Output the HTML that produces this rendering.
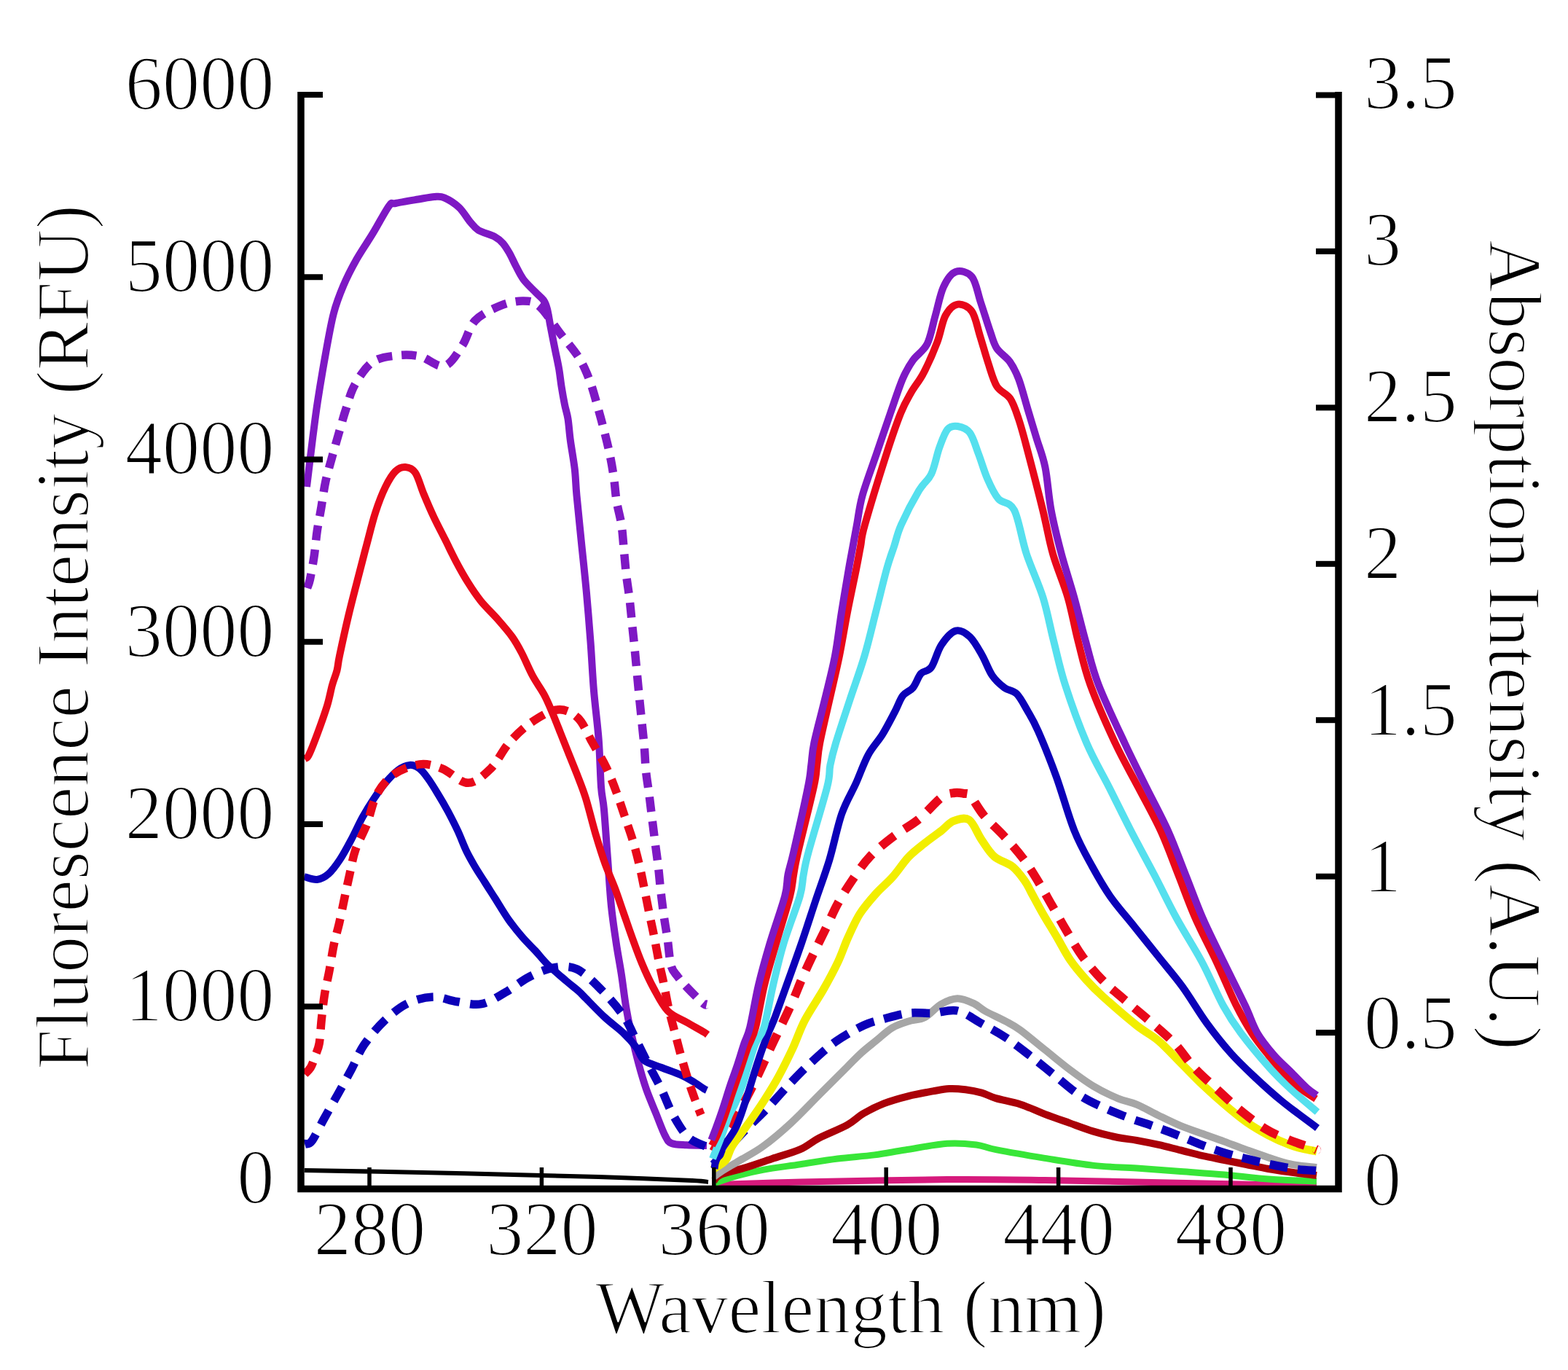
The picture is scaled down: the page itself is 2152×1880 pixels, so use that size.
<!DOCTYPE html>
<html><head><meta charset="utf-8">
<style>
html,body{margin:0;padding:0;background:#fff;}
svg{display:block;}
text{font-family:"Liberation Serif","Times New Roman",serif;fill:#000;stroke:#fff;stroke-width:2.2px;stroke-linejoin:round;}
</style></head>
<body>
<svg width="2152" height="1880" viewBox="0 0 2152 1880">
<rect width="2152" height="1880" fill="#fff"/>
<g font-size="105" text-anchor="end" transform="scale(0.975,1)">
<text x="386.2" y="150.0">6000</text>
<text x="386.2" y="400.2">5000</text>
<text x="386.2" y="650.5">4000</text>
<text x="386.2" y="900.8">3000</text>
<text x="386.2" y="1151.0">2000</text>
<text x="386.2" y="1401.2">1000</text>
<text x="386.2" y="1651.5">0</text>
</g>
<g font-size="105" text-anchor="middle" transform="scale(0.975,1)">
<text x="520.5" y="1722.5">280</text>
<text x="763.0" y="1722.5">320</text>
<text x="1005.4" y="1722.5">360</text>
<text x="1247.9" y="1722.5">400</text>
<text x="1490.4" y="1722.5">440</text>
<text x="1732.8" y="1722.5">480</text>
</g>
<g font-size="105" transform="scale(0.975,1)">
<text x="1920.0" y="149.5">3.5</text>
<text x="1920.0" y="364.4">3</text>
<text x="1920.0" y="579.3">2.5</text>
<text x="1920.0" y="794.2">2</text>
<text x="1920.0" y="1009.1">1.5</text>
<text x="1920.0" y="1224.0">1</text>
<text x="1920.0" y="1438.9">0.5</text>
<text x="1920.0" y="1653.8">0</text>
</g>
<text x="817" y="1828.5" font-size="103" textLength="701" lengthAdjust="spacingAndGlyphs">Wavelength (nm)</text>
<text transform="translate(121,1468) rotate(-90)" font-size="103" textLength="1187" lengthAdjust="spacingAndGlyphs">Fluorescence Intensity (RFU)</text>
<text transform="translate(2043.5,329) rotate(90)" font-size="103" textLength="1112" lengthAdjust="spacingAndGlyphs">Absorption Intensity (A.U.)</text>
<g fill="none" stroke-linejoin="round" stroke-linecap="butt">
<path d="M418.0,1606.0 C445.0,1606.5 525.8,1607.8 580.0,1609.0 C634.2,1610.2 698.0,1611.8 743.0,1613.0 C788.0,1614.2 815.5,1614.8 850.0,1616.0 C884.5,1617.2 929.7,1619.0 950.0,1620.0 C970.3,1621.0 968.3,1621.7 972.0,1622.0" stroke="#000" stroke-width="6"/>
<path d="M421.0,668.0 C422.4,656.7 426.9,619.2 429.3,600.0 C431.8,580.8 432.8,571.6 435.7,552.5 C438.6,533.4 443.2,506.0 446.9,485.5 C450.6,465.0 453.9,445.3 458.0,429.7 C462.1,414.1 466.2,404.1 471.4,391.8 C476.6,379.5 482.6,367.9 489.3,356.0 C496.0,344.1 504.2,332.7 511.6,320.4 C519.1,308.1 528.8,289.3 534.0,282.4 C539.2,275.5 536.2,280.5 542.9,279.0 C549.6,277.5 565.1,275.0 574.0,273.5 C582.9,272.0 590.4,270.4 596.4,270.0 C602.4,269.6 604.2,268.9 609.8,271.3 C615.4,273.7 624.0,279.0 630.0,284.6 C636.0,290.2 641.0,299.5 645.5,304.7 C650.0,309.9 651.1,312.5 656.7,315.9 C662.3,319.2 673.4,321.8 679.0,324.8 C684.6,327.8 686.9,330.1 690.2,333.8 C693.5,337.5 696.0,341.8 699.0,347.0 C702.0,352.2 704.8,358.9 708.0,365.0 C711.2,371.1 713.9,377.4 718.4,383.4 C722.9,389.4 730.4,396.2 735.0,401.0 C739.6,405.8 743.3,408.2 746.0,412.0 C748.7,415.8 749.4,418.0 751.0,424.0 C752.6,430.0 753.8,439.0 755.5,447.9 C757.2,456.8 759.3,467.4 761.3,477.2 C763.2,487.0 765.7,497.7 767.2,506.5 C768.7,515.3 769.2,521.9 770.5,530.0 C771.8,538.1 773.5,547.8 775.0,555.3 C776.5,562.8 778.2,566.7 779.5,574.8 C780.8,582.9 781.3,592.6 782.8,604.0 C784.3,615.4 787.2,630.5 788.7,643.2 C790.2,655.9 789.9,662.7 791.5,680.0 C793.1,697.3 796.0,724.7 798.2,747.0 C800.5,769.3 803.0,791.7 805.0,814.0 C807.0,836.3 808.8,858.7 810.5,881.0 C812.2,903.3 813.1,925.7 815.0,948.0 C816.9,970.3 820.0,992.8 821.7,1014.8 C823.4,1036.8 823.8,1064.1 825.0,1080.0 C826.2,1095.9 827.4,1093.8 828.9,1110.0 C830.4,1126.2 832.2,1154.7 833.9,1177.0 C835.6,1199.3 837.0,1224.5 839.0,1244.0 C841.0,1263.5 843.4,1278.3 845.7,1294.0 C848.0,1309.7 850.8,1323.3 853.0,1338.0 C855.2,1352.7 857.0,1368.9 859.2,1382.0 C861.4,1395.1 863.1,1403.5 866.0,1416.5 C868.9,1429.5 873.0,1446.8 876.5,1459.8 C880.0,1472.8 882.9,1482.9 886.9,1494.4 C890.9,1505.9 896.4,1518.3 900.7,1529.0 C905.0,1539.7 909.3,1551.8 912.8,1558.4 C916.3,1565.0 916.6,1566.7 921.5,1568.8 C926.4,1570.9 934.1,1570.8 942.2,1571.3 C950.3,1571.8 965.4,1571.9 970.0,1572.0" stroke="#7e18c4" stroke-width="10"/>
<path d="M421.5,807.0 C422.1,805.0 423.8,802.8 425.4,795.3 C427.0,787.8 429.7,773.1 431.3,762.0 C432.9,750.9 433.6,739.9 435.2,728.9 C436.8,717.9 439.1,707.1 441.0,695.7 C442.9,684.3 444.4,672.0 446.9,660.5 C449.4,649.0 452.9,637.8 455.8,627.0 C458.8,616.2 461.4,606.9 464.6,596.0 C467.8,585.1 471.1,572.7 474.8,561.4 C478.5,550.1 480.9,538.8 487.0,528.0 C493.1,517.2 501.9,503.4 511.6,496.7 C521.3,490.0 534.2,489.1 545.0,487.8 C555.8,486.5 565.5,486.6 576.3,489.0 C587.1,491.4 600.1,504.7 609.8,502.3 C619.5,499.9 627.4,484.8 634.4,474.4 C641.4,464.0 643.5,449.1 652.0,440.0 C660.5,430.9 674.7,424.5 685.5,420.0 C696.3,415.5 707.9,413.0 717.0,413.0 C726.1,413.0 731.3,412.6 740.0,420.0 C748.7,427.4 759.9,445.9 769.0,457.7 C778.1,469.5 787.8,480.2 794.5,490.9 C801.2,501.6 805.0,510.9 809.2,522.0 C813.5,533.1 816.8,546.0 820.0,557.3 C823.2,568.5 826.0,578.8 828.7,589.5 C831.5,600.2 834.2,610.8 836.5,621.7 C838.8,632.6 840.8,644.0 842.4,655.0 C844.0,666.0 844.5,677.2 846.3,688.0 C848.0,698.8 851.2,708.9 852.9,720.0 C854.6,731.1 855.2,743.2 856.3,754.8 C857.4,766.4 858.3,778.2 859.6,789.4 C860.9,800.5 862.7,810.7 864.0,821.7 C865.3,832.7 866.3,844.2 867.4,855.2 C868.5,866.2 869.7,876.4 870.8,887.6 C871.9,898.8 873.0,910.5 874.1,922.2 C875.2,933.9 876.4,946.5 877.5,957.9 C878.6,969.2 879.7,979.3 880.8,990.3 C881.9,1001.3 883.2,1012.5 884.2,1023.8 C885.2,1035.1 885.4,1047.0 886.5,1058.0 C887.6,1069.0 889.5,1079.1 890.9,1090.0 C892.3,1100.9 893.6,1112.4 895.0,1123.6 C896.4,1134.8 897.8,1146.2 899.2,1157.1 C900.6,1168.0 902.1,1178.0 903.4,1188.9 C904.7,1199.8 905.5,1211.2 906.8,1222.4 C908.1,1233.6 909.5,1245.0 911.0,1255.9 C912.5,1266.8 914.3,1276.2 916.0,1287.7 C917.7,1299.2 918.7,1316.3 921.0,1325.0 C923.3,1333.7 926.5,1335.1 930.0,1340.0 C933.5,1344.9 936.4,1348.1 942.2,1354.2 C948.0,1360.3 960.1,1372.7 964.7,1376.7 C969.3,1380.7 969.1,1377.8 970.0,1378.0" stroke="#7e18c4" stroke-width="11.5" stroke-dasharray="20.5 13"/>
<path d="M417.6,1041.0 C418.6,1040.3 420.5,1042.5 423.4,1037.0 C426.3,1031.5 431.0,1019.3 435.2,1008.0 C439.4,996.7 445.3,980.3 448.8,969.0 C452.3,957.7 453.7,948.2 456.0,940.0 C458.3,931.8 460.8,926.7 462.5,920.0 C464.2,913.3 463.4,912.3 466.0,900.0 C468.6,887.7 473.7,864.1 478.0,846.0 C482.3,827.9 487.6,808.0 491.8,791.4 C496.1,774.8 499.6,761.1 503.5,746.5 C507.4,731.9 511.0,716.5 515.2,703.5 C519.4,690.5 524.3,677.8 528.9,668.4 C533.5,659.0 538.0,651.5 542.6,646.9 C547.2,642.3 551.7,640.7 556.3,641.0 C560.9,641.3 565.8,642.6 570.0,648.8 C574.2,655.0 577.4,667.9 581.6,678.0 C585.8,688.1 590.4,699.0 595.3,709.4 C600.2,719.8 605.8,730.2 611.0,740.6 C616.2,751.0 621.4,762.1 626.6,771.9 C631.8,781.7 636.7,790.4 642.2,799.2 C647.7,808.0 653.0,816.1 659.8,824.6 C666.6,833.1 676.0,841.8 683.2,850.0 C690.4,858.2 697.5,866.3 703.0,874.0 C708.5,881.7 711.3,887.0 716.0,896.0 C720.7,905.0 726.1,918.3 731.3,927.9 C736.5,937.5 742.5,945.2 747.0,953.6 C751.5,962.0 754.4,969.4 758.1,978.1 C761.8,986.8 765.6,996.7 769.3,1006.0 C773.0,1015.3 776.7,1024.6 780.4,1033.9 C784.1,1043.2 787.7,1051.6 791.6,1061.8 C795.5,1072.0 799.5,1081.3 803.8,1095.0 C808.1,1108.7 812.7,1128.6 817.2,1143.7 C821.7,1158.8 826.1,1173.0 830.6,1185.6 C835.1,1198.1 839.8,1207.8 844.0,1219.0 C848.2,1230.2 851.8,1241.3 855.7,1252.5 C859.6,1263.7 863.2,1274.4 867.4,1286.0 C871.6,1297.6 876.1,1310.3 881.0,1322.0 C885.9,1333.7 891.1,1345.2 897.0,1356.0 C902.9,1366.8 908.8,1379.3 916.3,1387.1 C923.8,1394.9 933.9,1397.8 942.2,1402.7 C950.6,1407.6 961.6,1413.6 966.4,1416.5 C971.2,1419.4 970.2,1419.4 971.0,1420.0" stroke="#e8081a" stroke-width="10"/>
<path d="M417.6,1203.0 C420.5,1203.7 429.7,1207.6 435.2,1207.0 C440.7,1206.4 445.6,1203.8 450.8,1199.3 C456.0,1194.8 461.2,1187.6 466.4,1179.8 C471.6,1172.0 476.8,1162.2 482.0,1152.4 C487.2,1142.6 492.5,1130.6 497.7,1121.2 C502.9,1111.8 508.1,1103.6 513.3,1095.8 C518.5,1088.0 523.4,1080.8 528.9,1074.3 C534.4,1067.8 541.0,1060.8 546.5,1056.7 C552.0,1052.6 557.2,1050.2 562.1,1049.9 C567.0,1049.6 571.6,1051.7 575.8,1054.8 C580.0,1057.9 583.3,1062.6 587.5,1068.4 C591.7,1074.2 596.7,1082.4 601.2,1089.9 C605.8,1097.4 610.2,1104.9 614.8,1113.4 C619.3,1121.9 624.3,1131.6 628.5,1140.7 C632.7,1149.8 636.3,1159.9 640.2,1168.0 C644.1,1176.1 647.8,1182.3 652.0,1189.5 C656.2,1196.7 661.1,1203.8 665.6,1211.0 C670.1,1218.2 673.9,1224.0 679.3,1232.5 C684.7,1241.0 691.7,1253.1 698.0,1262.0 C704.3,1270.9 710.8,1278.8 717.0,1286.0 C723.2,1293.2 729.2,1298.7 735.0,1305.0 C740.8,1311.3 745.0,1317.2 752.0,1324.0 C759.0,1330.8 770.0,1340.0 777.0,1346.0 C784.0,1352.0 789.5,1356.0 794.0,1360.0 C798.5,1364.0 798.0,1364.0 804.0,1370.0 C810.0,1376.0 821.3,1388.0 830.0,1396.0 C838.7,1404.0 848.8,1411.2 856.0,1418.0 C863.2,1424.8 868.3,1430.8 873.0,1437.0 C877.7,1443.2 878.2,1450.3 884.0,1455.0 C889.8,1459.7 899.7,1461.7 908.0,1465.0 C916.3,1468.3 926.8,1471.8 934.0,1475.0 C941.2,1478.2 945.7,1480.8 951.0,1484.0 C956.3,1487.2 962.8,1492.0 966.0,1494.0 C969.2,1496.0 969.3,1495.7 970.0,1496.0" stroke="#0c00b8" stroke-width="10"/>
<path d="M418.0,1474.0 C419.4,1472.4 424.0,1468.9 426.5,1464.6 C429.0,1460.3 431.1,1453.5 433.0,1448.0 C434.9,1442.5 436.8,1439.9 438.2,1431.7 C439.6,1423.5 440.1,1410.2 441.3,1398.9 C442.5,1387.6 443.8,1375.1 445.6,1363.9 C447.4,1352.8 449.9,1343.3 452.0,1332.0 C454.1,1320.7 456.0,1306.9 458.3,1296.0 C460.6,1285.1 463.2,1277.3 465.7,1266.4 C468.2,1255.5 470.8,1241.7 473.2,1230.5 C475.6,1219.3 477.6,1210.0 480.0,1199.3 C482.4,1188.5 484.0,1177.4 487.9,1166.0 C491.8,1154.6 498.6,1143.7 503.5,1131.0 C508.4,1118.3 511.0,1101.4 517.2,1090.0 C523.4,1078.6 530.8,1069.4 540.6,1062.6 C550.4,1055.8 564.7,1050.2 575.8,1048.9 C586.9,1047.6 595.9,1050.6 607.0,1054.8 C618.1,1059.0 631.1,1074.3 642.2,1074.3 C653.3,1074.3 663.9,1064.0 673.4,1054.8 C682.9,1045.6 689.7,1029.5 699.0,1019.0 C708.3,1008.5 718.0,999.0 729.0,991.5 C740.0,984.0 754.3,975.1 765.0,974.0 C775.7,972.9 785.0,977.5 793.0,985.0 C801.0,992.5 806.5,1007.7 813.0,1019.0 C819.5,1030.3 826.5,1041.7 832.0,1053.0 C837.5,1064.3 841.8,1075.8 846.0,1087.0 C850.2,1098.2 853.5,1108.9 857.4,1120.3 C861.2,1131.7 865.8,1144.2 869.1,1155.4 C872.5,1166.6 875.0,1176.6 877.5,1187.2 C880.0,1197.8 882.0,1208.1 884.2,1219.0 C886.4,1229.9 888.7,1241.6 890.9,1252.5 C893.1,1263.4 895.4,1273.1 897.6,1284.3 C899.8,1295.5 902.1,1308.5 904.3,1319.5 C906.5,1330.5 908.7,1339.1 911.0,1350.0 C913.3,1360.9 915.4,1373.6 918.0,1385.0 C920.6,1396.4 923.7,1407.2 926.6,1418.2 C929.5,1429.2 932.1,1439.8 935.3,1451.1 C938.5,1462.3 942.4,1475.5 945.7,1485.7 C949.0,1495.9 952.3,1504.6 955.0,1512.0 C957.7,1519.4 960.8,1527.0 962.0,1530.0" stroke="#e8081a" stroke-width="11.5" stroke-dasharray="20.5 13"/>
<path d="M418.0,1569.5 C419.6,1569.0 423.2,1572.0 427.6,1566.3 C432.0,1560.6 438.5,1546.4 444.5,1535.6 C450.5,1524.8 457.2,1513.2 463.6,1501.7 C470.0,1490.2 476.7,1478.0 482.7,1466.7 C488.7,1455.4 492.0,1444.9 499.6,1433.8 C507.2,1422.7 518.2,1409.5 528.3,1400.0 C538.4,1390.5 548.9,1381.9 560.0,1376.6 C571.1,1371.3 583.9,1368.4 595.0,1368.1 C606.1,1367.8 615.8,1372.9 626.8,1374.5 C637.8,1376.1 649.7,1379.8 660.8,1377.7 C671.9,1375.6 682.6,1368.0 693.6,1361.8 C704.6,1355.6 715.4,1346.1 726.5,1340.5 C737.6,1334.9 749.1,1329.8 760.0,1328.0 C770.9,1326.2 781.0,1324.8 792.0,1330.0 C803.0,1335.2 815.4,1348.3 826.0,1359.0 C836.6,1369.7 847.9,1382.7 855.7,1394.0 C863.5,1405.3 867.2,1415.7 873.0,1426.9 C878.8,1438.2 884.5,1450.2 890.3,1461.5 C896.1,1472.8 902.1,1483.2 907.6,1494.4 C913.1,1505.7 917.1,1518.0 923.2,1529.0 C929.3,1540.0 936.8,1552.9 944.0,1560.1 C951.2,1567.3 961.8,1569.9 966.4,1572.2 C971.0,1574.5 970.7,1573.7 971.6,1574.0" stroke="#0c00b8" stroke-width="11.5" stroke-dasharray="22.5 14.5"/>
<path d="M980.0,1626.0 C1000.0,1625.3 1046.7,1623.2 1100.0,1622.0 C1153.3,1620.8 1244.3,1618.9 1300.0,1618.5 C1355.7,1618.1 1387.3,1618.8 1434.0,1619.5 C1480.7,1620.2 1535.7,1621.6 1580.0,1622.5 C1624.3,1623.4 1662.2,1624.2 1700.0,1625.0 C1737.8,1625.8 1789.2,1626.7 1807.0,1627.0" stroke="#d61a7c" stroke-width="9"/>
<path d="M980.0,1624.0 C984.8,1622.4 997.3,1617.5 1008.5,1614.4 C1019.7,1611.3 1032.0,1608.2 1047.0,1605.4 C1062.0,1602.6 1081.3,1600.3 1098.4,1597.7 C1115.5,1595.1 1132.8,1592.1 1149.7,1590.0 C1166.6,1587.9 1184.5,1586.9 1200.0,1584.9 C1215.5,1582.9 1225.7,1580.6 1242.4,1578.0 C1259.1,1575.4 1283.7,1570.5 1300.0,1569.3 C1316.3,1568.1 1328.8,1569.6 1340.0,1571.0 C1351.2,1572.4 1351.2,1574.6 1366.9,1577.7 C1382.6,1580.8 1411.6,1585.8 1433.9,1589.4 C1456.2,1593.0 1479.8,1597.1 1500.8,1599.4 C1521.8,1601.7 1540.1,1601.7 1560.0,1603.0 C1579.9,1604.3 1600.2,1606.0 1620.3,1607.5 C1640.4,1609.0 1660.4,1610.2 1680.5,1612.0 C1700.6,1613.8 1719.7,1616.5 1740.8,1618.0 C1761.9,1619.5 1796.0,1620.5 1807.0,1621.0" stroke="#38e638" stroke-width="9"/>
<path d="M980.0,1620.0 C981.5,1618.6 982.4,1614.7 989.3,1611.8 C996.2,1608.9 1009.5,1606.4 1021.3,1602.8 C1033.1,1599.2 1047.1,1594.3 1059.9,1590.0 C1072.8,1585.7 1087.7,1581.8 1098.4,1577.1 C1109.1,1572.4 1113.3,1567.2 1124.0,1561.7 C1134.7,1556.2 1152.4,1549.4 1162.6,1543.8 C1172.8,1538.2 1176.5,1532.9 1185.0,1528.0 C1193.5,1523.1 1203.2,1518.2 1213.5,1514.2 C1223.8,1510.2 1235.8,1506.9 1247.0,1504.1 C1258.2,1501.3 1271.1,1499.1 1280.4,1497.4 C1289.7,1495.7 1295.3,1494.4 1302.8,1494.0 C1310.2,1493.6 1317.7,1494.3 1325.1,1495.2 C1332.5,1496.1 1340.4,1497.6 1347.4,1499.6 C1354.4,1501.6 1358.1,1504.5 1366.9,1507.1 C1375.7,1509.7 1389.2,1511.8 1400.4,1515.4 C1411.6,1519.0 1422.7,1524.5 1433.9,1528.8 C1445.1,1533.0 1456.2,1536.9 1467.4,1540.9 C1478.6,1544.9 1489.7,1549.2 1500.8,1552.6 C1511.9,1555.9 1524.4,1559.0 1534.3,1561.0 C1544.2,1563.0 1550.7,1563.1 1560.0,1564.8 C1569.3,1566.5 1580.0,1568.6 1590.1,1570.9 C1600.1,1573.2 1610.2,1575.9 1620.3,1578.4 C1630.3,1580.9 1640.4,1583.7 1650.4,1586.0 C1660.4,1588.3 1670.5,1590.0 1680.5,1592.0 C1690.5,1594.0 1700.7,1596.0 1710.7,1598.0 C1720.8,1600.0 1730.8,1602.2 1740.8,1604.0 C1750.8,1605.8 1760.0,1607.0 1771.0,1608.5 C1782.0,1610.0 1801.0,1612.2 1807.0,1613.0" stroke="#aa0008" stroke-width="10"/>
<path d="M980.0,1615.0 C981.5,1613.8 983.5,1611.7 989.3,1608.0 C995.1,1604.3 1005.4,1598.4 1015.0,1592.6 C1024.6,1586.8 1035.2,1581.9 1047.0,1573.3 C1058.8,1564.7 1072.7,1553.0 1085.5,1541.2 C1098.3,1529.4 1111.2,1515.5 1124.0,1502.7 C1136.8,1489.9 1152.9,1473.8 1162.6,1464.2 C1172.3,1454.6 1175.4,1451.0 1182.0,1445.0 C1188.6,1439.0 1195.2,1434.0 1202.3,1428.2 C1209.4,1422.4 1217.1,1414.9 1224.6,1410.4 C1232.0,1405.9 1239.5,1403.8 1247.0,1401.4 C1254.5,1399.0 1261.9,1399.9 1269.3,1396.0 C1276.7,1392.1 1284.2,1382.3 1291.6,1378.0 C1299.0,1373.7 1306.5,1370.4 1313.9,1370.2 C1321.3,1370.0 1329.7,1373.9 1336.2,1376.9 C1342.7,1379.9 1345.7,1383.9 1353.0,1388.0 C1360.3,1392.1 1372.1,1397.1 1380.0,1401.4 C1387.9,1405.7 1391.4,1407.1 1400.4,1413.6 C1409.4,1420.1 1422.7,1431.5 1433.9,1440.4 C1445.1,1449.3 1456.2,1458.8 1467.4,1467.2 C1478.6,1475.6 1489.7,1483.9 1500.8,1490.6 C1511.9,1497.3 1524.4,1503.2 1534.3,1507.4 C1544.2,1511.6 1550.7,1511.7 1560.0,1515.6 C1569.3,1519.5 1580.0,1525.8 1590.1,1530.7 C1600.1,1535.6 1610.2,1540.7 1620.3,1544.9 C1630.3,1549.1 1640.4,1552.2 1650.4,1555.8 C1660.4,1559.4 1670.5,1562.9 1680.5,1566.6 C1690.5,1570.3 1700.7,1574.3 1710.7,1577.9 C1720.8,1581.5 1730.8,1585.1 1740.8,1588.4 C1750.8,1591.7 1760.0,1595.2 1771.0,1597.5 C1782.0,1599.8 1801.0,1601.2 1807.0,1602.0" stroke="#a6a6a6" stroke-width="10"/>
<path d="M979.0,1598.0 C985.7,1590.8 1006.8,1567.5 1019.0,1554.8 C1031.2,1542.0 1041.7,1532.6 1052.4,1521.5 C1063.1,1510.4 1072.9,1498.7 1083.2,1488.0 C1093.5,1477.3 1103.3,1467.1 1114.0,1457.3 C1124.7,1447.5 1135.5,1437.4 1147.4,1429.0 C1159.3,1420.6 1174.6,1412.2 1185.6,1407.0 C1196.6,1401.8 1203.3,1400.9 1213.5,1398.1 C1223.7,1395.3 1235.8,1391.6 1247.0,1390.3 C1258.2,1389.0 1269.2,1390.8 1280.4,1390.3 C1291.6,1389.8 1302.6,1384.5 1313.9,1387.0 C1325.2,1389.5 1337.4,1399.2 1348.5,1405.3 C1359.6,1411.4 1369.4,1416.5 1380.3,1423.7 C1391.2,1431.0 1402.6,1440.2 1413.8,1448.8 C1425.0,1457.4 1436.1,1466.7 1447.3,1475.6 C1458.5,1484.5 1469.9,1495.0 1480.8,1502.3 C1491.7,1509.5 1501.2,1513.8 1512.6,1519.1 C1524.0,1524.4 1538.2,1529.9 1549.4,1534.1 C1560.6,1538.3 1569.0,1540.5 1579.6,1544.2 C1590.1,1547.9 1601.7,1552.0 1612.7,1556.3 C1623.8,1560.6 1634.6,1565.5 1645.9,1569.8 C1657.2,1574.1 1669.2,1578.4 1680.5,1581.9 C1691.8,1585.4 1702.7,1588.1 1713.7,1590.9 C1724.8,1593.7 1735.8,1596.2 1746.8,1598.5 C1757.8,1600.8 1770.0,1603.2 1780.0,1604.5 C1790.0,1605.8 1802.5,1606.2 1807.0,1606.5" stroke="#0c00b8" stroke-width="11.5" stroke-dasharray="25 14"/>
<path d="M978.0,1605.0 C981.0,1602.9 991.3,1597.9 995.7,1592.6 C1000.1,1587.3 999.2,1581.9 1004.5,1573.3 C1009.8,1564.7 1020.1,1551.9 1027.6,1541.2 C1035.1,1530.5 1042.6,1519.8 1049.4,1509.1 C1056.2,1498.4 1062.3,1488.8 1068.7,1477.0 C1075.1,1465.2 1082.0,1451.3 1088.0,1438.5 C1094.0,1425.7 1097.6,1413.4 1104.6,1400.0 C1111.6,1386.6 1122.4,1371.3 1130.0,1358.0 C1137.6,1344.7 1144.5,1331.8 1150.1,1320.0 C1155.7,1308.2 1158.5,1298.4 1163.5,1287.4 C1168.5,1276.4 1173.7,1264.1 1180.2,1253.9 C1186.7,1243.7 1195.0,1234.4 1202.5,1226.0 C1210.0,1217.6 1217.5,1212.1 1224.9,1203.7 C1232.4,1195.3 1239.8,1183.6 1247.2,1175.8 C1254.6,1168.0 1262.1,1162.8 1269.5,1156.8 C1276.9,1150.8 1285.3,1145.1 1291.8,1140.1 C1298.3,1135.1 1302.2,1129.2 1308.6,1126.7 C1315.0,1124.2 1323.6,1120.8 1330.0,1125.0 C1336.4,1129.2 1341.2,1143.6 1347.0,1152.0 C1352.8,1160.4 1357.5,1169.1 1364.6,1175.3 C1371.7,1181.5 1382.7,1183.6 1389.7,1189.2 C1396.7,1194.8 1402.2,1202.9 1406.4,1208.7 C1410.6,1214.5 1411.0,1216.7 1415.0,1224.0 C1419.0,1231.3 1424.6,1242.1 1430.5,1252.4 C1436.4,1262.7 1444.1,1275.0 1450.5,1285.9 C1456.9,1296.8 1462.3,1307.9 1469.0,1317.7 C1475.7,1327.5 1483.2,1336.1 1490.7,1344.5 C1498.2,1352.9 1502.7,1357.6 1514.2,1368.0 C1525.8,1378.4 1547.3,1397.1 1560.0,1407.1 C1572.7,1417.1 1580.0,1419.7 1590.1,1428.2 C1600.1,1436.7 1610.2,1448.2 1620.3,1458.3 C1630.3,1468.3 1640.4,1479.0 1650.4,1488.5 C1660.4,1498.0 1670.5,1507.1 1680.5,1515.6 C1690.5,1524.1 1700.7,1532.7 1710.7,1539.7 C1720.8,1546.7 1730.8,1552.5 1740.8,1557.8 C1750.8,1563.1 1762.2,1568.1 1771.0,1571.4 C1779.8,1574.7 1787.5,1576.0 1793.5,1577.4 C1799.5,1578.8 1804.8,1579.6 1807.0,1580.0" stroke="#f2ee00" stroke-width="11"/>
<path d="M979.0,1580.0 C980.3,1577.8 982.0,1574.0 986.7,1566.9 C991.4,1559.8 1000.8,1547.7 1007.2,1537.4 C1013.6,1527.1 1019.4,1516.2 1025.2,1505.3 C1031.0,1494.4 1036.6,1483.0 1041.9,1471.9 C1047.2,1460.8 1052.2,1449.4 1057.3,1438.5 C1062.4,1427.6 1067.5,1417.4 1072.7,1406.4 C1077.9,1395.4 1083.7,1383.4 1088.4,1372.6 C1093.2,1361.8 1096.5,1352.4 1101.2,1341.7 C1105.9,1331.0 1111.0,1320.1 1116.6,1308.4 C1122.1,1296.8 1128.9,1283.3 1134.5,1271.8 C1140.1,1260.3 1144.1,1250.2 1150.1,1239.4 C1156.0,1228.6 1163.0,1217.6 1170.2,1207.0 C1177.5,1196.4 1184.3,1185.6 1193.6,1175.8 C1202.9,1166.0 1214.8,1156.5 1226.0,1147.9 C1237.2,1139.4 1249.6,1133.4 1260.6,1124.5 C1271.6,1115.6 1283.8,1100.5 1292.0,1094.4 C1300.2,1088.3 1304.8,1088.9 1310.0,1088.0 C1315.2,1087.1 1319.4,1088.3 1323.0,1089.0 C1326.6,1089.7 1327.2,1087.0 1331.7,1092.0 C1336.2,1097.0 1342.5,1109.7 1350.3,1119.0 C1358.1,1128.3 1369.5,1138.1 1378.5,1148.0 C1387.5,1157.9 1396.6,1168.0 1404.5,1178.5 C1412.4,1189.0 1419.2,1200.4 1425.7,1211.0 C1432.2,1221.6 1437.1,1230.9 1443.5,1242.0 C1449.9,1253.1 1456.9,1265.8 1463.9,1277.6 C1470.9,1289.4 1477.6,1301.5 1485.7,1312.7 C1493.8,1323.9 1503.0,1334.7 1512.5,1344.5 C1522.0,1354.3 1531.4,1361.6 1542.6,1371.3 C1553.8,1381.0 1567.9,1392.4 1579.6,1402.6 C1591.3,1412.8 1602.9,1422.4 1612.7,1432.7 C1622.5,1443.0 1628.8,1454.1 1638.3,1464.4 C1647.8,1474.7 1659.5,1484.7 1670.0,1494.5 C1680.5,1504.3 1690.5,1514.0 1701.6,1523.1 C1712.6,1532.1 1725.2,1542.0 1736.3,1548.8 C1747.3,1555.6 1756.9,1559.3 1767.9,1563.8 C1779.0,1568.3 1796.1,1573.5 1802.6,1575.9 C1809.1,1578.3 1806.3,1577.7 1807.0,1578.0" stroke="#e8081a" stroke-width="12" stroke-dasharray="24 16"/>
<path d="M980.5,1603.6 C980.9,1601.8 980.7,1597.6 982.8,1592.6 C984.9,1587.5 988.6,1580.8 993.1,1573.3 C997.6,1565.8 1004.9,1557.6 1009.8,1547.6 C1014.7,1537.5 1018.2,1525.9 1022.6,1513.0 C1027.0,1500.1 1032.1,1482.2 1036.0,1470.0 C1039.9,1457.8 1042.7,1449.3 1046.0,1440.0 C1049.3,1430.7 1053.0,1421.5 1056.0,1414.0 C1059.0,1406.5 1059.7,1406.5 1064.0,1395.0 C1068.3,1383.5 1076.0,1361.7 1082.0,1345.0 C1088.0,1328.3 1093.6,1313.0 1099.8,1295.0 C1106.0,1277.0 1112.6,1256.2 1119.0,1237.0 C1125.4,1217.8 1132.2,1200.0 1138.3,1180.0 C1144.3,1160.0 1149.2,1134.2 1155.3,1116.7 C1161.4,1099.2 1168.8,1088.3 1174.8,1074.8 C1180.8,1061.3 1185.5,1047.0 1191.6,1035.8 C1197.6,1024.6 1205.0,1017.7 1211.1,1007.9 C1217.1,998.1 1223.2,986.1 1227.9,977.2 C1232.6,968.4 1234.8,960.4 1239.0,954.8 C1243.2,949.2 1248.8,948.8 1253.0,943.7 C1257.2,938.6 1259.9,928.9 1264.1,924.2 C1268.3,919.6 1273.4,922.3 1278.1,915.8 C1282.8,909.3 1286.4,893.4 1292.0,885.0 C1297.6,876.6 1305.1,867.5 1311.6,865.6 C1318.1,863.8 1325.1,868.3 1331.1,873.9 C1337.1,879.5 1342.7,890.1 1347.8,899.0 C1352.9,907.9 1356.7,919.5 1361.8,927.0 C1366.9,934.5 1372.9,939.5 1378.5,943.7 C1384.1,947.9 1390.0,946.8 1395.3,952.0 C1400.5,957.2 1405.1,966.5 1410.0,975.0 C1414.9,983.5 1418.2,988.2 1424.8,1003.2 C1431.4,1018.2 1441.2,1042.5 1449.5,1065.2 C1457.8,1087.9 1466.0,1118.9 1474.3,1139.5 C1482.5,1160.1 1490.7,1173.9 1499.0,1189.0 C1507.3,1204.1 1514.2,1216.5 1523.9,1230.3 C1533.6,1244.1 1545.9,1257.8 1556.9,1271.6 C1567.9,1285.4 1579.0,1299.1 1590.0,1312.9 C1601.0,1326.7 1612.0,1339.1 1623.0,1354.2 C1634.0,1369.3 1645.0,1388.6 1656.0,1403.7 C1667.0,1418.8 1678.0,1432.6 1689.0,1445.0 C1700.0,1457.4 1710.3,1467.0 1722.0,1478.0 C1733.7,1489.0 1744.9,1499.3 1759.2,1511.0 C1773.5,1522.7 1799.9,1541.8 1808.0,1548.0" stroke="#0c00b8" stroke-width="10"/>
<path d="M978.0,1590.0 C980.0,1585.0 986.2,1570.0 990.0,1560.0 C993.8,1550.0 997.9,1537.4 1001.0,1530.0 C1004.1,1522.6 1005.5,1522.2 1008.5,1515.5 C1011.5,1508.8 1015.8,1498.5 1018.8,1489.9 C1021.8,1481.4 1023.5,1473.8 1026.5,1464.2 C1029.5,1454.6 1033.1,1441.1 1036.8,1432.1 C1040.5,1423.1 1044.5,1423.3 1048.5,1410.0 C1052.5,1396.7 1056.5,1371.2 1061.0,1352.0 C1065.5,1332.8 1069.3,1315.3 1075.4,1295.0 C1081.5,1274.7 1093.1,1245.8 1097.7,1230.0 C1102.3,1214.2 1100.8,1210.0 1102.8,1200.0 C1104.8,1190.0 1104.0,1190.0 1109.4,1170.0 C1114.8,1150.0 1130.2,1100.0 1135.2,1080.0 C1140.2,1060.0 1137.4,1060.0 1139.4,1050.0 C1141.4,1040.0 1142.5,1035.0 1147.0,1020.0 C1151.5,1005.0 1159.9,980.0 1166.5,960.0 C1173.1,940.0 1180.6,920.0 1186.5,900.0 C1192.4,880.0 1196.9,860.0 1202.0,840.0 C1207.1,820.0 1213.0,795.0 1217.2,780.0 C1221.4,765.0 1223.7,760.0 1227.0,750.0 C1230.3,740.0 1231.2,732.8 1236.9,720.0 C1242.6,707.2 1254.4,684.6 1261.3,673.0 C1268.2,661.4 1273.4,660.4 1278.1,650.6 C1282.8,640.8 1285.5,624.6 1289.2,614.4 C1292.9,604.2 1296.2,594.1 1300.4,589.2 C1304.6,584.3 1309.3,584.2 1314.4,585.0 C1319.5,585.8 1326.3,587.7 1331.1,594.0 C1335.9,600.3 1339.0,612.6 1343.0,623.0 C1347.0,633.4 1350.5,646.2 1355.0,656.5 C1359.5,666.8 1364.0,677.2 1370.2,684.5 C1376.4,691.8 1385.6,687.4 1392.0,700.0 C1398.4,712.6 1402.2,740.0 1408.8,760.0 C1415.4,780.0 1425.3,800.0 1431.5,820.0 C1437.7,840.0 1441.1,860.0 1446.2,880.0 C1451.3,900.0 1454.5,916.7 1462.0,940.0 C1469.5,963.3 1481.5,996.7 1491.5,1020.0 C1501.5,1043.3 1511.9,1060.0 1522.0,1080.0 C1532.1,1100.0 1541.8,1120.0 1552.1,1140.0 C1562.4,1160.0 1573.5,1180.0 1584.0,1200.0 C1594.5,1220.0 1603.9,1240.0 1614.8,1260.0 C1625.7,1280.0 1638.9,1300.0 1649.6,1320.0 C1660.3,1340.0 1669.9,1363.7 1678.8,1380.0 C1687.7,1396.3 1692.4,1403.4 1703.1,1417.7 C1713.8,1432.0 1731.3,1452.9 1742.7,1465.7 C1754.1,1478.5 1760.7,1484.5 1771.6,1494.6 C1782.5,1504.6 1801.9,1520.8 1808.0,1526.0" stroke="#55e0ee" stroke-width="10"/>
<path d="M977.0,1572.0 C978.3,1569.3 982.0,1563.0 985.0,1556.0 C988.0,1549.0 991.7,1539.3 995.0,1530.0 C998.3,1520.7 1001.5,1510.3 1005.0,1500.0 C1008.5,1489.7 1012.5,1478.3 1016.0,1468.0 C1019.5,1457.7 1022.5,1447.7 1026.0,1438.0 C1029.5,1428.3 1033.2,1424.3 1037.0,1410.0 C1040.8,1395.7 1044.3,1371.2 1049.0,1352.0 C1053.7,1332.8 1059.2,1315.3 1065.0,1295.0 C1070.8,1274.7 1080.1,1245.8 1084.1,1230.0 C1088.1,1214.2 1087.4,1210.0 1089.2,1200.0 C1091.0,1190.0 1090.5,1190.0 1095.1,1170.0 C1099.7,1150.0 1112.4,1100.0 1116.8,1080.0 C1121.2,1060.0 1119.8,1060.0 1121.2,1050.0 C1122.6,1040.0 1122.2,1035.0 1125.1,1020.0 C1128.0,1005.0 1134.0,980.0 1138.5,960.0 C1143.0,940.0 1147.9,920.0 1152.0,900.0 C1156.1,880.0 1159.1,860.0 1163.0,840.0 C1166.9,820.0 1172.3,795.0 1175.3,780.0 C1178.3,765.0 1179.0,760.0 1181.0,750.0 C1183.0,740.0 1181.0,741.2 1187.0,720.0 C1193.0,698.8 1208.5,648.2 1216.7,622.7 C1224.9,597.2 1230.6,580.9 1236.2,566.9 C1241.8,552.9 1244.9,548.3 1250.2,539.0 C1255.5,529.7 1262.0,522.6 1268.0,511.0 C1274.0,499.4 1281.5,482.3 1286.4,469.3 C1291.3,456.3 1292.9,441.6 1297.6,433.0 C1302.3,424.4 1308.4,418.5 1314.4,417.6 C1320.5,416.7 1328.8,420.2 1333.9,427.4 C1339.0,434.6 1341.3,449.1 1345.0,460.9 C1348.7,472.7 1352.4,486.5 1356.2,498.0 C1360.0,509.5 1363.0,521.8 1368.0,530.0 C1373.0,538.2 1381.5,539.5 1386.5,547.0 C1391.5,554.5 1394.4,564.4 1398.0,575.0 C1401.6,585.6 1402.8,590.1 1408.3,610.9 C1413.8,631.7 1425.1,675.1 1431.2,700.0 C1437.3,724.9 1439.3,740.0 1445.0,760.0 C1450.7,780.0 1459.8,800.0 1465.6,820.0 C1471.4,840.0 1474.5,860.0 1479.7,880.0 C1484.9,900.0 1488.0,916.7 1496.5,940.0 C1505.0,963.3 1519.8,996.7 1530.7,1020.0 C1541.6,1043.3 1551.6,1060.0 1562.0,1080.0 C1572.4,1100.0 1583.8,1120.0 1593.0,1140.0 C1602.2,1160.0 1609.1,1180.0 1617.0,1200.0 C1624.9,1220.0 1631.8,1240.0 1640.6,1260.0 C1649.4,1280.0 1660.3,1300.0 1669.7,1320.0 C1679.1,1340.0 1688.8,1363.7 1696.9,1380.0 C1705.0,1396.3 1710.9,1406.4 1718.2,1417.7 C1725.5,1429.0 1733.3,1438.5 1740.8,1447.8 C1748.3,1457.1 1755.9,1465.6 1763.4,1473.4 C1770.9,1481.2 1778.9,1488.7 1786.0,1494.5 C1793.1,1500.3 1802.7,1505.8 1806.0,1508.0" stroke="#e8081a" stroke-width="10"/>
<path d="M976.4,1564.3 C977.5,1561.5 980.2,1554.6 982.8,1547.6 C985.4,1540.5 988.6,1531.6 991.8,1522.0 C995.0,1512.4 998.9,1499.5 1002.1,1489.9 C1005.3,1480.3 1007.9,1473.8 1011.1,1464.2 C1014.3,1454.6 1018.3,1441.1 1021.3,1432.1 C1024.3,1423.1 1025.9,1423.3 1029.2,1410.0 C1032.5,1396.7 1036.5,1371.2 1041.0,1352.0 C1045.5,1332.8 1050.5,1315.3 1056.5,1295.0 C1062.5,1274.7 1072.9,1245.8 1077.1,1230.0 C1081.3,1214.2 1079.5,1210.0 1081.5,1200.0 C1083.5,1190.0 1084.4,1190.0 1089.0,1170.0 C1093.6,1150.0 1104.9,1100.0 1108.9,1080.0 C1113.0,1060.0 1111.9,1060.0 1113.3,1050.0 C1114.7,1040.0 1114.1,1035.0 1117.2,1020.0 C1120.3,1005.0 1127.2,980.0 1132.0,960.0 C1136.8,940.0 1142.2,920.0 1146.0,900.0 C1149.8,880.0 1151.8,860.0 1155.0,840.0 C1158.2,820.0 1162.4,795.0 1165.0,780.0 C1167.6,765.0 1168.7,760.0 1170.5,750.0 C1172.3,740.0 1173.8,731.7 1176.0,720.0 C1178.2,708.3 1179.1,696.2 1183.6,680.0 C1188.1,663.8 1196.6,641.5 1203.0,622.7 C1209.4,603.9 1216.0,584.2 1222.0,567.0 C1228.0,549.8 1233.8,531.6 1239.0,519.5 C1244.2,507.4 1247.4,502.3 1253.0,494.4 C1258.6,486.5 1267.4,482.2 1272.5,472.0 C1277.6,461.8 1280.0,446.0 1283.7,433.0 C1287.4,420.0 1290.2,404.0 1294.8,394.0 C1299.4,384.0 1305.1,375.3 1311.6,373.0 C1318.1,370.7 1328.3,373.0 1334.0,380.0 C1339.7,387.0 1341.8,402.5 1346.0,415.0 C1350.2,427.5 1355.3,444.5 1359.0,455.0 C1362.7,465.5 1363.5,471.1 1368.0,478.0 C1372.5,484.9 1381.0,489.4 1386.0,496.5 C1391.0,503.6 1394.2,509.9 1398.3,520.6 C1402.3,531.3 1406.3,547.3 1410.3,560.7 C1414.3,574.1 1418.4,587.5 1422.4,600.9 C1426.4,614.3 1431.0,624.5 1434.4,641.0 C1437.8,657.5 1438.9,680.2 1442.6,700.0 C1446.3,719.8 1451.4,740.0 1456.7,760.0 C1462.0,780.0 1468.8,800.0 1474.3,820.0 C1479.8,840.0 1484.4,860.0 1490.0,880.0 C1495.6,900.0 1498.8,916.7 1507.8,940.0 C1516.8,963.3 1532.8,996.7 1543.7,1020.0 C1554.6,1043.3 1563.1,1060.0 1573.0,1080.0 C1582.9,1100.0 1594.0,1120.0 1603.0,1140.0 C1612.0,1160.0 1619.0,1180.0 1627.0,1200.0 C1635.0,1220.0 1642.0,1240.0 1650.7,1260.0 C1659.4,1280.0 1669.7,1300.0 1679.4,1320.0 C1689.1,1340.0 1701.2,1363.7 1708.9,1380.0 C1716.6,1396.3 1719.1,1406.4 1725.7,1417.7 C1732.3,1429.0 1740.8,1439.0 1748.3,1447.8 C1755.8,1456.6 1763.5,1462.9 1771.0,1470.4 C1778.5,1477.9 1787.5,1487.6 1793.5,1493.0 C1799.5,1498.4 1804.8,1501.3 1807.0,1503.0" stroke="#7e18c4" stroke-width="10"/>
</g>
<g stroke="#000" fill="none" stroke-linecap="butt">
<path d="M413,126 V1631.5 H1837 V126" stroke-width="9.5" stroke-linejoin="miter"/>
<path d="M413,130.0 H443" stroke-width="8"/>
<path d="M413,380.25 H443" stroke-width="8"/>
<path d="M413,630.5 H443" stroke-width="8"/>
<path d="M413,880.75 H443" stroke-width="8"/>
<path d="M413,1131.0 H443" stroke-width="8"/>
<path d="M413,1381.25 H443" stroke-width="8"/>
<path d="M413,1631.5 H443" stroke-width="8"/>
<path d="M1806,130.5 H1837" stroke-width="8"/>
<path d="M1806,344.9 H1837" stroke-width="8"/>
<path d="M1806,559.4 H1837" stroke-width="8"/>
<path d="M1806,773.8 H1837" stroke-width="8"/>
<path d="M1806,988.2 H1837" stroke-width="8"/>
<path d="M1806,1202.7 H1837" stroke-width="8"/>
<path d="M1806,1417.1 H1837" stroke-width="8"/>
<path d="M1806,1631.5 H1837" stroke-width="8"/>
<path d="M507.0,1602 V1631" stroke-width="5.5"/>
<path d="M743.4,1602 V1631" stroke-width="5.5"/>
<path d="M979.8,1602 V1631" stroke-width="5.5"/>
<path d="M1216.2,1602 V1631" stroke-width="5.5"/>
<path d="M1452.6,1602 V1631" stroke-width="5.5"/>
<path d="M1689.0,1602 V1631" stroke-width="5.5"/>
</g>
</svg>
</body></html>
